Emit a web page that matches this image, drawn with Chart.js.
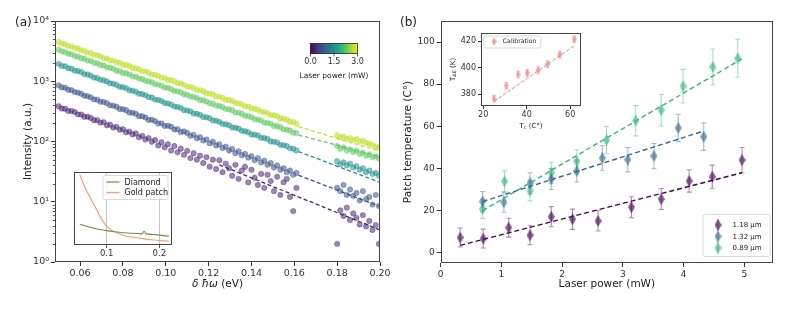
<!DOCTYPE html>
<html>
<head>
<meta charset="utf-8">
<script src="https://cdn.jsdelivr.net/npm/chart.js@4.4.1/dist/chart.umd.min.js"></script>
<style>
  body { margin: 0; background: #fff; }
  #wrap { position: relative; width: 797px; height: 309px; overflow: hidden; font-family: "DejaVu Sans", sans-serif; }
  canvas { position: absolute; }
  .panel { position: absolute; font-size: 12px; color: #222; }
</style>
</head>
<body>
<div id="wrap">
  <canvas id="spectra" width="400" height="309" style="left:0;top:0"></canvas>
  <canvas id="spectraInset" width="102" height="94" style="left:73px;top:171px"></canvas>
  <canvas id="temps" width="399" height="309" style="left:398px;top:0"></canvas>
  <canvas id="calib" width="142" height="112" style="left:444px;top:26px"></canvas>
  <div class="panel" style="left:15px;top:15px">(a)</div>
  <div class="panel" style="left:400px;top:15px">(b)</div>
</div>
<script>
// ---- panel (a): spectra, five laser powers ----
const energyLow = [
  0.0500,0.0515,0.0530,0.0545,0.0560,0.0575,0.0590,0.0605,0.0620,0.0635,
  0.0650,0.0665,0.0680,0.0695,0.0710,0.0725,0.0740,0.0755,0.0770,0.0785,
  0.0800,0.0815,0.0830,0.0845,0.0860,0.0875,0.0890,0.0905,0.0920,0.0935,
  0.0950,0.0965,0.0980,0.0995,0.1010,0.1025,0.1040,0.1055,0.1070,0.1085,
  0.1100,0.1115,0.1130,0.1145,0.1160,0.1175,0.1190,0.1205,0.1220,0.1235,
  0.1250,0.1265,0.1280,0.1295,0.1310,0.1325,0.1340,0.1355,0.1370,0.1385,
  0.1400,0.1415,0.1430,0.1445,0.1460,0.1475,0.1490,0.1505,0.1520,0.1535,
  0.1550,0.1565,0.1580,0.1595,0.1610];
const energyHigh = [0.1800,0.1815,0.1830,0.1845,0.1860,0.1875,0.1890,0.1905,0.1920,0.1935,0.1950,0.1965,0.1980,0.1995];

const spec1Low = [
  385,352,350,322,320,308,282,280,258,257,
  246,225,226,206,210,186,190,170,175,157,
  160,142,146,131,136,118,124,108,114,99,
  106,86,97,80,90,71,84,66,76,60,
  70,53,64,50,58,44,55,38,50,35,
  49,31,43,36,27,41,24,33,38,21,
  34,25,19,29,17,28,22,15,26,13,
  21,24,12,7,17];
const spec2Low = [
  855,790,780,722,712,660,648,620,575,566,
  540,500,495,457,452,432,398,393,378,347,
  344,330,302,300,288,263,262,250,228,229,
  218,199,200,181,183,176,158,160,143,147,
  139,124,129,113,118,104,108,93,99,86,
  90,78,82,71,75,64,69,59,62,54,
  57,49,53,45,48,41,44,37,40,34,
  36,31,33,28,30];
const spec3Low = [
  1940,1790,1770,1640,1620,1500,1480,1420,1315,1295,
  1245,1150,1135,1055,1040,995,925,910,870,808,
  798,765,708,698,670,620,612,586,543,536,
  496,490,470,435,429,412,381,375,360,332,
  328,316,291,288,277,255,252,243,224,221,
  212,196,193,186,171,169,164,150,148,143,
  131,130,126,115,114,110,100,99,96,88,
  87,84,77,76,71];
const spec4Low = [
  3340,3110,3060,2860,2810,2620,2580,2410,2370,2200,
  2170,2030,1990,1860,1830,1700,1680,1610,1495,1470,
  1375,1355,1300,1205,1190,1110,1095,1015,1002,960,
  893,880,845,785,775,742,690,680,652,607,
  598,557,550,526,489,483,462,430,424,394,
  389,374,346,342,330,304,301,288,267,264,
  253,235,232,223,206,204,197,181,179,172,
  159,157,152,140,138];
const spec5Low = [
  4480,4190,4120,3850,3790,3520,3490,3260,3200,2990,
  2950,2750,2700,2600,2420,2390,2230,2200,2060,2030,
  1880,1860,1790,1660,1640,1580,1460,1450,1390,1290,
  1280,1230,1140,1130,1050,1040,1000,925,915,880,
  815,805,775,720,712,684,632,628,605,560,
  553,532,493,488,470,436,430,414,384,380,
  352,349,336,311,308,296,274,272,262,242,
  240,230,213,211,196];

const spec1High = [2.0,7.2,5.8,8.0,5.0,6.4,5.4,4.2,6.0,3.9,4.8,3.4,4.1,2.0];
const spec2High = [17,15,19,13,16,12.5,14,10.5,15,11,12,9,13,8.5];
const spec3High = [47,42,45,40,43,37,39,34,36,31,33,29,30,27];
const spec4High = [84,76,80,71,74,67,70,62,65,58,61,55,57,52];
const spec5High = [126,117,121,111,114,106,109,100,103,95,92,88,83,80];

// dashed fits: start energy, value there, value at 0.20 eV
const fitStartEnergy = [0.125, 0.162, 0.162, 0.162, 0.162];
const fitStartValue = [41, 27.5, 68, 128, 176];
const fitEndValue = [3.4, 8.3, 21, 56, 69];
const fitEndEnergy = 0.20;

const energyTicks = [0.06, 0.08, 0.10, 0.12, 0.14, 0.16, 0.18, 0.20];
const decadeTicks = [1, 10, 100, 1000, 10000];
const powerBarTicks = [0.0, 1.5, 3.0];

// inset of (a)
const insetEnergyGold = [0.049,0.055,0.060,0.065,0.070,0.075,0.080,0.085,0.090,0.095,0.100,0.110,0.120,0.130,0.140,0.160,0.180,0.200,0.218];
const goldCurve = [96.3,85.3,77.0,70.1,63.3,56.4,49.5,42.6,35.8,30.3,25.4,20.0,16.5,13.8,11.7,9.6,7.6,6.2,5.5];
const insetEnergyDiamond = [0.049,0.060,0.070,0.080,0.090,0.100,0.120,0.140,0.160,0.167,0.171,0.175,0.190,0.200,0.218];
const diamondCurve = [28.5,26.1,24.1,22.3,20.9,19.7,17.9,16.5,15.8,15.3,18.8,15.2,14.4,13.5,12.0];
const insetTicks = [0.1, 0.2];
const insetNames = ['Diamond', 'Gold patch'];

// ---- panel (b): patch temperature vs laser power ----
const powerPurple = [0.32,0.70,1.12,1.47,1.82,2.17,2.59,3.14,3.63,4.09,4.47,4.96];
const tempPurple = [7.1,6.6,11.8,8.2,17.0,15.8,15.0,21.5,25.4,34.0,36.0,43.9];
const errPurple = [4.5,4.5,4.5,4.5,4.8,4.8,4.8,5.0,5.0,5.3,5.5,6.0];
const powerBlue = [0.69,1.04,1.47,1.82,2.24,2.66,3.08,3.51,3.91,4.33];
const tempBlue = [24.2,23.9,32.9,34.9,38.7,44.9,44.1,45.8,59.2,55.0];
const errBlue = [4.8,4.8,5.0,5.0,5.2,5.8,5.8,6.0,6.5,6.5];
const powerGreen = [0.69,1.05,1.47,1.82,2.24,2.73,3.21,3.63,3.99,4.48,4.89];
const tempGreen = [20.7,33.8,29.4,37.9,43.3,53.4,62.6,67.6,79.0,88.2,92.3];
const errGreen = [4.5,5.0,4.8,5.0,5.5,6.5,7.2,7.5,8.0,8.5,9.0];
const fitPowerPurple = [0.32, 4.96], fitTempPurple = [3.4, 37.9];
const fitPowerBlue = [0.69, 4.33], fitTempBlue = [24.2, 57.7];
const fitPowerGreen = [0.69, 4.96], fitTempGreen = [19.9, 92.0];
const widthNames = ['1.18 μm', '1.32 μm', '0.89 μm'];
const powerTicks = [0, 1, 2, 3, 4, 5];
const tempTicks = [0, 20, 40, 60, 80, 100];

// inset of (b): calibration
const calibTc = [25.0,30.6,36.1,40.3,45.3,49.7,55.3,61.9];
const calibT = [376.5,386.3,394.8,396.1,398.1,402.6,409.9,421.3];
const calibErr = [2.5,2.5,2.5,2.5,2.5,2.5,2.5,2.5];
const calibFitTc = [25.0, 61.9], calibFitT = [374.5, 416.5];
const calibXTicks = [20, 40, 60];
const calibYTicks = [380, 400, 420];

// ---- styles ----
const family = '"DejaVu Sans", sans-serif';
const specColors = ['#482475', '#3b528b', '#21918c', '#5ec962', '#bddf26'];
const viridis = ['#440154','#482475','#414487','#355f8d','#2a788e','#21918c','#22a884','#44bf70','#7ad151','#bddf26','#fde725'];
const widthColors = ['#440154', '#31688e', '#35b779'];
const calibColor = '#f08080';
const sup = ['⁰','¹','²','³','⁴'];

function rgba(hex, a) {
  const n = parseInt(hex.slice(1), 16);
  return `rgba(${n >> 16},${(n >> 8) & 255},${n & 255},${a})`;
}

function thinDiamond(color, w, h) {
  const c = document.createElement('canvas');
  c.width = w; c.height = h;
  const g = c.getContext('2d');
  g.fillStyle = color;
  g.beginPath();
  g.moveTo(w / 2, 0); g.lineTo(w, h / 2); g.lineTo(w / 2, h); g.lineTo(0, h / 2);
  g.closePath(); g.fill();
  return c;
}

function legendBox(ctx, x, y, w, h) {
  ctx.save();
  ctx.fillStyle = 'rgba(255,255,255,0.85)';
  ctx.strokeStyle = '#cfcfcf';
  ctx.lineWidth = 0.8;
  ctx.beginPath();
  if (ctx.roundRect) ctx.roundRect(x + 0.5, y + 0.5, w, h, 2); else ctx.rect(x + 0.5, y + 0.5, w, h);
  ctx.fill(); ctx.stroke();
  ctx.restore();
}

// draws text pieces [text, size, dy, italic] centred on (x, y)
function drawPieces(ctx, pieces, x, y, rotate) {
  ctx.save();
  ctx.translate(x, y);
  if (rotate) ctx.rotate(-Math.PI / 2);
  let total = 0;
  pieces.forEach(p => { ctx.font = `${p[3] ? 'italic ' : ''}${p[1]}px ${family}`; total += ctx.measureText(p[0]).width; });
  let cx = -total / 2;
  ctx.fillStyle = '#222';
  ctx.textBaseline = 'middle';
  ctx.textAlign = 'left';
  pieces.forEach(p => {
    ctx.font = `${p[3] ? 'italic ' : ''}${p[1]}px ${family}`;
    ctx.fillText(p[0], cx, p[2]);
    cx += ctx.measureText(p[0]).width;
  });
  ctx.restore();
}

const framePlugin = {
  id: 'frame',
  afterDraw(chart) {
    const { ctx, chartArea: a } = chart;
    ctx.save();
    ctx.strokeStyle = '#444';
    ctx.lineWidth = 1;
    ctx.strokeRect(Math.round(a.left) + 0.5, Math.round(a.top) + 0.5, Math.round(a.right - a.left) - 1, Math.round(a.bottom - a.top) - 1);
    ctx.restore();
  }
};

const whitePlugin = {
  id: 'white',
  beforeDraw(chart) {
    const { ctx, chartArea: a } = chart;
    ctx.save();
    ctx.fillStyle = '#fff';
    ctx.fillRect(a.left, a.top, a.right - a.left, a.bottom - a.top);
    ctx.restore();
  }
};

function axisTicks(list) {
  return s => { s.ticks = list.map(v => ({ value: v })); };
}

function axisStyle(size) {
  return {
    grid: { drawOnChartArea: false, drawTicks: true, tickLength: 4, tickColor: '#333' },
    border: { display: false },
    ticks: { font: { family, size }, color: '#333', padding: 2, maxRotation: 0, autoSkip: false }
  };
}

// ---------- chart (a) ----------
const specLow = [spec1Low, spec2Low, spec3Low, spec4Low, spec5Low];
const specHigh = [spec1High, spec2High, spec3High, spec4High, spec5High];

const specSets = specLow.map((lo, k) => ({
  type: 'scatter',
  data: energyLow.map((x, j) => ({ x, y: lo[j] })).concat(energyHigh.map((x, j) => ({ x, y: specHigh[k][j] }))),
  backgroundColor: rgba(specColors[k], 0.55),
  borderColor: rgba(specColors[k], 0.7),
  borderWidth: 0.5,
  pointRadius: 2.7,
  order: 1
}));
const fitSets = specColors.map((c, k) => ({
  type: 'line',
  data: [{ x: fitStartEnergy[k], y: fitStartValue[k] }, { x: fitEndEnergy, y: fitEndValue[k] }],
  borderColor: c,
  borderWidth: 1.3,
  borderDash: [4, 2.5],
  pointRadius: 0,
  order: 0
}));

const logMinorPlugin = {
  id: 'logMinor',
  afterDraw(chart) {
    const { ctx, chartArea: a, scales: { y } } = chart;
    ctx.save();
    ctx.strokeStyle = '#333';
    ctx.lineWidth = 0.8;
    for (let d = 0; d < decadeTicks.length - 1; d++) {
      for (let m = 2; m <= 9; m++) {
        const py = Math.round(y.getPixelForValue(m * decadeTicks[d])) + 0.5;
        ctx.beginPath(); ctx.moveTo(a.left - 2.2, py); ctx.lineTo(a.left, py); ctx.stroke();
      }
    }
    ctx.restore();
  }
};

const colorbarPlugin = {
  id: 'colorbar',
  afterDraw(chart) {
    const { ctx, chartArea: a } = chart;
    const x0 = a.left + 255, y0 = a.top + 22, w = 48, h = 11;
    const g = ctx.createLinearGradient(x0, 0, x0 + w, 0);
    viridis.forEach((c, i) => g.addColorStop(i / (viridis.length - 1), c));
    ctx.save();
    ctx.fillStyle = g;
    ctx.fillRect(x0, y0, w, h);
    ctx.strokeStyle = '#333';
    ctx.lineWidth = 0.8;
    ctx.strokeRect(x0 + 0.5, y0 + 0.5, w - 1, h - 1);
    const maxP = powerBarTicks[powerBarTicks.length - 1];
    ctx.fillStyle = '#333';
    ctx.font = `8px ${family}`;
    ctx.textAlign = 'center';
    ctx.textBaseline = 'middle';
    powerBarTicks.forEach(v => {
      const px = x0 + (v / maxP) * (w - 1) + 0.5;
      ctx.beginPath(); ctx.moveTo(px, y0 + h); ctx.lineTo(px, y0 + h + 2.5); ctx.stroke();
      ctx.fillText(v.toFixed(1), px, y0 + h + 8);
    });
    ctx.font = `7.5px ${family}`;
    ctx.fillStyle = '#222';
    ctx.fillText('Laser power (mW)', x0 + w / 2, y0 + 33);
    // x-axis title with italic symbols
    drawPieces(ctx, [['δ ħω', 10.5, 0, true], [' (eV)', 10.5, 0, false]], (a.left + a.right) / 2, 284, false);
    ctx.restore();
  }
};

const ax = axisStyle(9.5), ay = axisStyle(9.5);
new Chart(document.getElementById('spectra'), {
  type: 'scatter',
  data: { datasets: specSets.concat(fitSets) },
  options: {
    animation: false,
    responsive: false,
    layout: { padding: { left: 18, right: 20, top: 21, bottom: 15 } },
    plugins: { legend: { display: false }, tooltip: { enabled: false } },
    scales: {
      x: {
        type: 'linear', min: 0.0483, max: 0.2,
        afterBuildTicks: axisTicks(energyTicks),
        afterFit: s => { s.height = 32; },
        grid: ax.grid, border: ax.border,
        ticks: Object.assign({}, ax.ticks, { callback: v => v.toFixed(2) })
      },
      y: {
        type: 'logarithmic', min: 1, max: 10000,
        afterBuildTicks: axisTicks(decadeTicks),
        afterFit: s => { s.width = 37; },
        grid: ay.grid, border: ay.border,
        ticks: Object.assign({}, ay.ticks, { callback: v => '10' + sup[Math.round(Math.log10(v))] }),
        title: { display: true, text: 'Intensity (a.u.)', font: { family, size: 10.5 }, color: '#222' }
      }
    }
  },
  plugins: [logMinorPlugin, colorbarPlugin, framePlugin]
});

// ---------- inset of (a) ----------
const insetLegendPlugin = {
  id: 'insetLegend',
  afterDraw(chart) {
    const { ctx, chartArea: a } = chart;
    const bx = a.left + 28.5, by = a.top + 3;
    legendBox(ctx, bx, by, 65, 24);
    const cols = ['#6f8f45', '#ff956a'];
    ctx.save();
    ctx.font = `8px ${family}`;
    ctx.fillStyle = '#222';
    ctx.textBaseline = 'middle';
    insetNames.forEach((n, i) => {
      const ly = by + 7 + i * 10.5;
      ctx.strokeStyle = cols[i];
      ctx.lineWidth = 1.2;
      ctx.beginPath(); ctx.moveTo(bx + 4, ly); ctx.lineTo(bx + 17, ly); ctx.stroke();
      ctx.fillText(n, bx + 22, ly + 0.5);
    });
    ctx.restore();
  }
};

new Chart(document.getElementById('spectraInset'), {
  type: 'line',
  data: {
    datasets: [
      { data: insetEnergyDiamond.map((x, j) => ({ x, y: diamondCurve[j] })), borderColor: '#6f8f45', borderWidth: 1.1, pointRadius: 0, cubicInterpolationMode: 'monotone' },
      { data: insetEnergyGold.map((x, j) => ({ x, y: goldCurve[j] })), borderColor: '#ff956a', borderWidth: 1.1, pointRadius: 0, cubicInterpolationMode: 'monotone' }
    ]
  },
  options: {
    animation: false,
    responsive: false,
    layout: { padding: { left: 1, right: 3, top: 1, bottom: 0 } },
    plugins: { legend: { display: false }, tooltip: { enabled: false } },
    scales: {
      x: {
        type: 'linear', min: 0.038, max: 0.224,
        afterBuildTicks: axisTicks(insetTicks),
        afterFit: s => { s.height = 20; },
        grid: { drawOnChartArea: true, color: '#b8b8b8', lineWidth: 0.8, tickLength: 3, tickColor: '#333' },
        border: { display: false },
        ticks: { font: { family, size: 8.5 }, color: '#333', padding: 1, maxRotation: 0, autoSkip: false, callback: v => v.toFixed(1) }
      },
      y: { display: false, min: 0, max: 100 }
    }
  },
  plugins: [whitePlugin, insetLegendPlugin, framePlugin]
});

// ---------- chart (b) ----------
const markerW = 7, markerH = 12;
const widthX = [powerPurple, powerBlue, powerGreen];
const widthY = [tempPurple, tempBlue, tempGreen];
const widthErr = [errPurple, errBlue, errGreen];
const widthFitX = [fitPowerPurple, fitPowerBlue, fitPowerGreen];
const widthFitY = [fitTempPurple, fitTempBlue, fitTempGreen];
const widthMarkers = widthColors.map(c => thinDiamond(rgba(c, 0.65), markerW, markerH));

const errorBarPlugin = {
  id: 'errorBars',
  beforeDatasetsDraw(chart) {
    const { ctx, scales: { x, y } } = chart;
    ctx.save();
    chart.data.datasets.forEach(ds => {
      if (!ds.errors) return;
      ctx.strokeStyle = ds.errColor;
      ctx.lineWidth = 1.1;
      ds.data.forEach((p, j) => {
        const px = x.getPixelForValue(p.x);
        const y1 = y.getPixelForValue(p.y - ds.errors[j]);
        const y2 = y.getPixelForValue(p.y + ds.errors[j]);
        ctx.beginPath();
        ctx.moveTo(px, y1); ctx.lineTo(px, y2);
        ctx.moveTo(px - ds.capHalf, y1); ctx.lineTo(px + ds.capHalf, y1);
        ctx.moveTo(px - ds.capHalf, y2); ctx.lineTo(px + ds.capHalf, y2);
        ctx.stroke();
      });
    });
    ctx.restore();
  }
};

const tempLegendPlugin = {
  id: 'tempLegend',
  afterDraw(chart) {
    const { ctx, chartArea: a } = chart;
    const bx = a.right - 70.5, by = a.bottom - 49;
    legendBox(ctx, bx, by, 67, 42);
    ctx.save();
    ctx.font = `7px ${family}`;
    ctx.fillStyle = '#222';
    ctx.textBaseline = 'middle';
    widthNames.forEach((n, i) => {
      const ly = by + 11 + i * 11.5;
      const mx = bx + 15.5;
      ctx.strokeStyle = rgba(widthColors[i], 0.45);
      ctx.lineWidth = 1.1;
      ctx.beginPath(); ctx.moveTo(mx, ly - 6); ctx.lineTo(mx, ly + 6); ctx.stroke();
      ctx.drawImage(widthMarkers[i], mx - markerW / 2, ly - markerH / 2);
      ctx.fillText(n, bx + 30, ly + 0.5);
    });
    ctx.restore();
  }
};

const widthSets = widthColors.map((c, k) => ({
  type: 'scatter',
  data: widthX[k].map((x, j) => ({ x, y: widthY[k][j] })),
  errors: widthErr[k],
  errColor: rgba(c, 0.45),
  capHalf: 2.5,
  pointStyle: widthMarkers[k],
  pointRadius: 4,
  order: 1
}));
const widthFitSets = widthColors.map((c, k) => ({
  type: 'line',
  data: widthFitX[k].map((x, j) => ({ x, y: widthFitY[k][j] })),
  borderColor: c,
  borderWidth: 1.4,
  borderDash: [5, 3],
  pointRadius: 0,
  order: 0
}));

const bx_ = axisStyle(9), by_ = axisStyle(9);
new Chart(document.getElementById('temps'), {
  type: 'scatter',
  data: { datasets: widthSets.concat(widthFitSets) },
  options: {
    animation: false,
    responsive: false,
    layout: { padding: { left: 0, right: 24, top: 21, bottom: 14 } },
    plugins: { legend: { display: false }, tooltip: { enabled: false } },
    scales: {
      x: {
        type: 'linear', min: 0, max: 5.47,
        afterBuildTicks: axisTicks(powerTicks),
        afterFit: s => { s.height = 32; },
        grid: bx_.grid, border: bx_.border, ticks: bx_.ticks,
        title: { display: true, text: 'Laser power (mW)', font: { family, size: 10.5 }, color: '#222' }
      },
      y: {
        type: 'linear', min: -5, max: 110,
        afterBuildTicks: axisTicks(tempTicks),
        afterFit: s => { s.width = 42.7; },
        grid: by_.grid, border: by_.border, ticks: by_.ticks,
        title: { display: true, text: 'Patch temperature (C°)', font: { family, size: 10.5 }, color: '#222' }
      }
    }
  },
  plugins: [errorBarPlugin, tempLegendPlugin, framePlugin]
});

// ---------- inset of (b) ----------
const calibMarker = thinDiamond(rgba(calibColor, 0.7), 5, 8);
const calibDecorPlugin = {
  id: 'calibDecor',
  afterDraw(chart) {
    const { ctx, chartArea: a } = chart;
    const bx = a.left + 2.3, by = a.top + 2.7;
    legendBox(ctx, bx, by, 57, 12);
    ctx.save();
    ctx.strokeStyle = rgba(calibColor, 0.5);
    ctx.lineWidth = 1;
    ctx.beginPath(); ctx.moveTo(bx + 10.7, by + 2.5); ctx.lineTo(bx + 10.7, by + 9.5); ctx.stroke();
    ctx.drawImage(calibMarker, bx + 8.2, by + 2);
    ctx.font = `6.2px ${family}`;
    ctx.fillStyle = '#222';
    ctx.textBaseline = 'middle';
    ctx.fillText('Calibration', bx + 19.5, by + 6.3);
    ctx.restore();
    drawPieces(ctx, [['T', 7, 0, false], ['c', 5, 1.8, false], [' (C°)', 7, 0, false]], (a.left + a.right) / 2, 100, false);
    drawPieces(ctx, [['T', 7, 0, false], ['ΔE', 5, 1.8, false], [' (K)', 7, 0, false]], 9, (a.top + a.bottom) / 2, true);
  }
};

new Chart(document.getElementById('calib'), {
  type: 'scatter',
  data: {
    datasets: [
      {
        data: calibTc.map((x, j) => ({ x, y: calibT[j] })),
        errors: calibErr, errColor: rgba(calibColor, 0.5), capHalf: 1.8,
        pointStyle: calibMarker, pointRadius: 3, order: 1
      },
      {
        type: 'line',
        data: calibFitTc.map((x, j) => ({ x, y: calibFitT[j] })),
        borderColor: calibColor, borderWidth: 1, borderDash: [3.5, 2], pointRadius: 0, order: 0
      }
    ]
  },
  options: {
    animation: false,
    responsive: false,
    layout: { padding: { left: 0, right: 5, top: 6, bottom: 4 } },
    plugins: { legend: { display: false }, tooltip: { enabled: false } },
    scales: {
      x: {
        type: 'linear', min: 19, max: 65,
        afterBuildTicks: axisTicks(calibXTicks),
        afterFit: s => { s.height = 28; },
        grid: { drawOnChartArea: false, tickLength: 3, tickColor: '#333' },
        border: { display: false },
        ticks: { font: { family, size: 8 }, color: '#333', padding: 1, maxRotation: 0, autoSkip: false }
      },
      y: {
        type: 'linear', min: 371, max: 426.3,
        afterBuildTicks: axisTicks(calibYTicks),
        afterFit: s => { s.width = 37; },
        grid: { drawOnChartArea: false, tickLength: 3, tickColor: '#333' },
        border: { display: false },
        ticks: { font: { family, size: 8 }, color: '#333', padding: 2, maxRotation: 0, autoSkip: false }
      }
    }
  },
  plugins: [whitePlugin, errorBarPlugin, calibDecorPlugin, framePlugin]
});
</script>
</body>
</html>
